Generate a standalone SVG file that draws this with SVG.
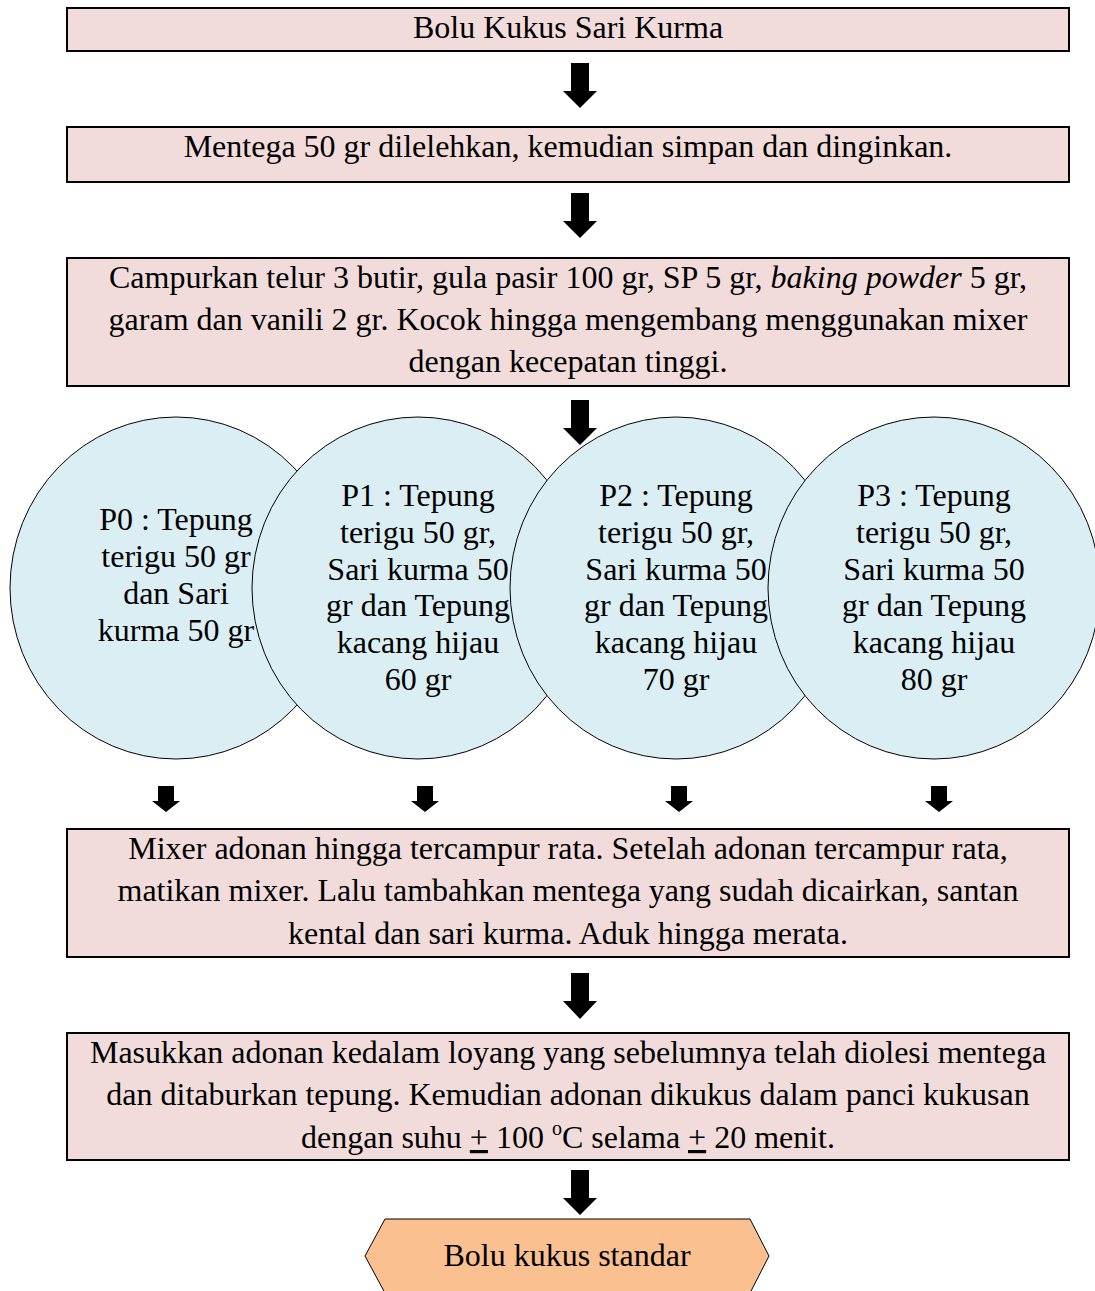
<svg xmlns="http://www.w3.org/2000/svg" width="1095" height="1291" viewBox="0 0 1095 1291">
<style>
.box{fill:#F2DCDB;stroke:#000;stroke-width:2}
.circ{fill:#DAEEF3;stroke:#000;stroke-width:1}
.hex{fill:#FAC090;stroke:#000;stroke-width:1}
.t{font-family:"Liberation Serif","Times New Roman",serif;font-size:32px;fill:#000;text-anchor:middle}
.arr{fill:#000}
</style>
<rect width="1095" height="1291" fill="#fff"/>
<g id="n1"><rect class="box" x="67" y="8" width="1002" height="43"/>
<text class="t" x="568" y="38">Bolu Kukus Sari Kurma</text></g>
<g id="n2"><rect class="box" x="67" y="127" width="1002" height="55"/>
<text class="t" x="568" y="157">Mentega 50 gr dilelehkan, kemudian simpan dan dinginkan.</text></g>
<g id="n3"><rect class="box" x="67" y="258" width="1002" height="128"/>
<text class="t" x="568" y="288">Campurkan telur 3 butir, gula pasir 100 gr, SP 5 gr, <tspan font-style="italic">baking powder</tspan> 5 gr,</text>
<text class="t" x="568" y="330">garam dan vanili 2 gr. Kocok hingga mengembang menggunakan mixer</text>
<text class="t" x="568" y="372">dengan kecepatan tinggi.</text></g>
<g id="p0"><ellipse class="circ" cx="176" cy="588" rx="166" ry="171"/>
<text class="t" x="176" y="530">P0 : Tepung</text>
<text class="t" x="176" y="567">terigu 50 gr</text>
<text class="t" x="176" y="604">dan Sari</text>
<text class="t" x="176" y="641">kurma 50 gr</text></g>
<g id="p1"><ellipse class="circ" cx="418" cy="588" rx="166" ry="171"/>
<text class="t" x="418" y="506">P1 : Tepung</text>
<text class="t" x="418" y="543">terigu 50 gr,</text>
<text class="t" x="418" y="580">Sari kurma 50</text>
<text class="t" x="418" y="616">gr dan Tepung</text>
<text class="t" x="418" y="653">kacang hijau</text>
<text class="t" x="418" y="690">60 gr</text></g>
<g id="p2"><ellipse class="circ" cx="676" cy="588" rx="166" ry="171"/>
<text class="t" x="676" y="506">P2 : Tepung</text>
<text class="t" x="676" y="543">terigu 50 gr,</text>
<text class="t" x="676" y="580">Sari kurma 50</text>
<text class="t" x="676" y="616">gr dan Tepung</text>
<text class="t" x="676" y="653">kacang hijau</text>
<text class="t" x="676" y="690">70 gr</text></g>
<g id="p3"><ellipse class="circ" cx="934" cy="588" rx="166" ry="171"/>
<text class="t" x="934" y="506">P3 : Tepung</text>
<text class="t" x="934" y="543">terigu 50 gr,</text>
<text class="t" x="934" y="580">Sari kurma 50</text>
<text class="t" x="934" y="616">gr dan Tepung</text>
<text class="t" x="934" y="653">kacang hijau</text>
<text class="t" x="934" y="690">80 gr</text></g>
<g id="n4"><rect class="box" x="67" y="829" width="1002" height="128"/>
<text class="t" x="568" y="859">Mixer adonan hingga tercampur rata. Setelah adonan tercampur rata,</text>
<text class="t" x="568" y="901">matikan mixer. Lalu tambahkan mentega yang sudah dicairkan, santan</text>
<text class="t" x="568" y="944">kental dan sari kurma. Aduk hingga merata.</text></g>
<g id="n5"><rect class="box" x="67" y="1033" width="1002" height="127"/>
<text class="t" x="568" y="1063">Masukkan adonan kedalam loyang yang sebelumnya telah diolesi mentega</text>
<text class="t" x="568" y="1105">dan ditaburkan tepung. Kemudian adonan dikukus dalam panci kukusan</text>
<text class="t" x="568" y="1148">dengan suhu <tspan text-decoration="underline">+</tspan> 100 <tspan font-size="20" dy="-13">o</tspan><tspan dy="13">C selama </tspan><tspan text-decoration="underline">+</tspan> 20 menit.</text></g>
<g id="n6"><polygon class="hex" points="385,1219 750,1219 769,1256 750,1293 385,1293 365,1256"/>
<text class="t" x="567" y="1266">Bolu kukus standar</text></g>
<g id="connectors">
<path class="arr" d="M571,63H589V91H597L580,108L563,91H571Z"/>
<path class="arr" d="M571,193H589V221H597L580,238L563,221H571Z"/>
<path class="arr" d="M571,400H589V428H597L580,445L563,428H571Z"/>
<path class="arr" d="M158,786H174V801H180L166,812L152,801H158Z"/>
<path class="arr" d="M417,786H433V801H439L425,812L411,801H417Z"/>
<path class="arr" d="M671,786H687V801H693L679,812L665,801H671Z"/>
<path class="arr" d="M931,786H947V801H953L939,812L925,801H931Z"/>
<path class="arr" d="M571,973H589V1001H597L580,1019L563,1001H571Z"/>
<path class="arr" d="M571,1170H589V1198H597L580,1215L563,1198H571Z"/>
</g>
</svg>
